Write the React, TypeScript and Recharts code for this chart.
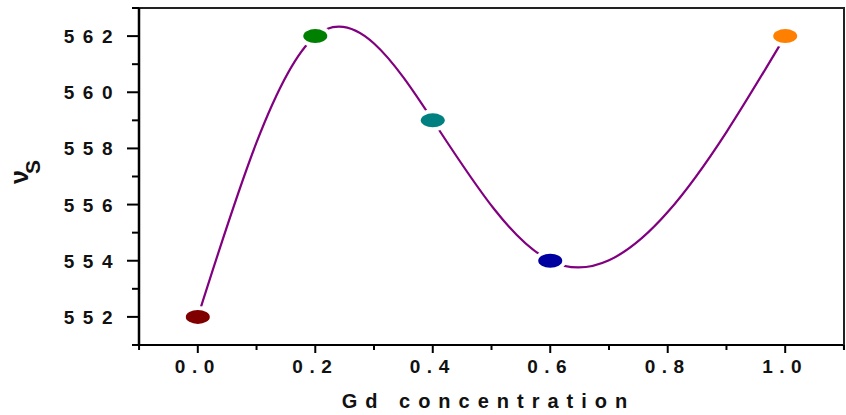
import { LineChart, Line, XAxis, YAxis, Label } from "recharts";

// Gd concentration vs sound velocity (vs)
const concentration = [0, 0.2, 0.4, 0.6, 1.0];
const velocity = [552, 562, 559, 554, 562];

const xTicks = [-0.1, 0, 0.1, 0.2, 0.3, 0.4, 0.5, 0.6, 0.7, 0.8, 0.9, 1.0, 1.1];
const xMajor = [0, 0.2, 0.4, 0.6, 0.8, 1.0];
const yTicks = [551, 552, 553, 554, 555, 556, 557, 558, 559, 560, 561, 562, 563];
const yMajor = [552, 554, 556, 558, 560, 562];

const dotColors = ["#800000", "#008000", "#008080", "#0000A0", "#FF8000"];

const rows = concentration.map((x, i) => ({ x, v: velocity[i] }));

const FONT = "'Liberation Sans', Arial, sans-serif";
const CHART_W = 846;
const CHART_H = 415;
const MARGIN = { top: 8, right: 2, bottom: 0, left: 0 };
const Y_AXIS_W = 139;
const X_AXIS_H = 70;
const PLOT_H = CHART_H - MARGIN.top - MARGIN.bottom - X_AXIS_H;

// natural cubic spline in x (like Origin's spline connection)
const splineX = (context: any) => {
  let xs: number[] = [];
  let ys: number[] = [];
  return {
    areaStart() {},
    areaEnd() {},
    lineStart() {
      xs = [];
      ys = [];
    },
    point(x: number, y: number) {
      xs.push(+x);
      ys.push(+y);
    },
    lineEnd() {
      const n = xs.length;
      if (!n) return;
      context.moveTo(xs[0], ys[0]);
      if (n === 1) return;
      if (n === 2) {
        context.lineTo(xs[1], ys[1]);
        return;
      }
      const h: number[] = [];
      const d: number[] = [];
      for (let i = 0; i < n - 1; i++) {
        h[i] = xs[i + 1] - xs[i];
        d[i] = (ys[i + 1] - ys[i]) / h[i];
      }
      const m = n - 2;
      const a: number[] = [], b: number[] = [], c: number[] = [], r: number[] = [];
      for (let k = 0; k < m; k++) {
        const i = k + 1;
        a[k] = h[i - 1];
        b[k] = 2 * (h[i - 1] + h[i]);
        c[k] = h[i];
        r[k] = 6 * (d[i] - d[i - 1]);
      }
      for (let k = 1; k < m; k++) {
        const w = a[k] / b[k - 1];
        b[k] -= w * c[k - 1];
        r[k] -= w * r[k - 1];
      }
      const M: number[] = new Array(n).fill(0);
      for (let k = m - 1; k >= 0; k--) {
        M[k + 1] = (r[k] - (k < m - 1 ? c[k] * M[k + 2] : 0)) / b[k];
      }
      for (let i = 0; i < n - 1; i++) {
        const s0 = d[i] - (h[i] * (2 * M[i] + M[i + 1])) / 6;
        const s1 = d[i] + (h[i] * (M[i] + 2 * M[i + 1])) / 6;
        context.bezierCurveTo(
          xs[i] + h[i] / 3,
          ys[i] + (s0 * h[i]) / 3,
          xs[i + 1] - h[i] / 3,
          ys[i + 1] - (s1 * h[i]) / 3,
          xs[i + 1],
          ys[i + 1]
        );
      }
    },
  };
};

const isMajorX = (v: number) => xMajor.some((m) => Math.abs(m - v) < 1e-6);

const XTick = (props: any) => {
  const { x, y, payload } = props;
  const major = isMajorX(payload.value);
  return (
    <g>
      <line x1={x} x2={x} y1={y} y2={y + (major ? 8 : 5)} stroke="#000" strokeWidth={2} />
      {major && (
        <text
          x={x}
          y={y + 28}
          textAnchor="middle"
          fontFamily={FONT}
          fontWeight="bold"
          fontSize={19}
          letterSpacing={6.5}
          fill="#111"
        >
          {payload.value.toFixed(1)}
        </text>
      )}
    </g>
  );
};

const YTick = (props: any) => {
  const { x, y, payload } = props;
  const major = yMajor.includes(payload.value);
  return (
    <g>
      <line x1={x - (major ? 12 : 7)} x2={x} y1={y} y2={y} stroke="#000" strokeWidth={2} />
      {major && (
        <text
          x={x - 18}
          y={y + 7}
          textAnchor="end"
          fontFamily={FONT}
          fontWeight="bold"
          fontSize={19}
          letterSpacing={8.5}
          fill="#111"
        >
          {payload.value}
        </text>
      )}
    </g>
  );
};

const Dot = (props: any) => {
  const { cx, cy, index } = props;
  return (
    <g key={`dot-${index}`}>
      <ellipse cx={cx} cy={cy} rx={16} ry={11} fill="#fff" />
      <ellipse cx={cx} cy={cy} rx={12} ry={7} fill={dotColors[index]} />
    </g>
  );
};

const YTitle = (props: any) => {
  const { viewBox } = props;
  const x = viewBox.x + 28;
  const y = viewBox.y + 176;
  return (
    <text
      x={x}
      y={y}
      transform={`rotate(-90 ${x} ${y})`}
      fontFamily={FONT}
      fontWeight="bold"
      fill="#111"
    >
      <tspan fontSize={25}>ν</tspan>
      <tspan fontSize={21} dx={-4} dy={12}>
        S
      </tspan>
    </text>
  );
};

// x title, plus the top and right frame of the plot box (thin filled bars)
const XTitle = (props: any) => {
  const { viewBox } = props;
  const left = viewBox.x;
  const right = viewBox.x + viewBox.width;
  const bottom = viewBox.y;
  const top = bottom - PLOT_H;
  return (
    <g>
      <rect x={left - 7} y={top - 1} width={right - left + 8} height={2} fill="#222" />
      <rect x={right - 1} y={top - 1} width={2} height={PLOT_H + 6} fill="#222" />
      <text
        x={left + viewBox.width / 2 - 3}
        y={bottom + 63}
        textAnchor="middle"
        fontFamily={FONT}
        fontWeight="bold"
        fontSize={20}
        letterSpacing={8}
        fill="#111"
      >
        Gd concentration
      </text>
    </g>
  );
};

export default function App() {
  return (
    <div style={{ width: CHART_W, height: CHART_H, background: "#fff" }}>
      <style>{`html, body { margin: 0; padding: 0; overflow: hidden; }`}</style>
      <LineChart width={CHART_W} height={CHART_H} data={rows} margin={MARGIN}>
        <XAxis
          type="number"
          dataKey="x"
          domain={[-0.1001, 1.1001]}
          ticks={xTicks}
          interval={0}
          tickSize={0}
          tickMargin={0}
          tickLine={false}
          tick={<XTick />}
          axisLine={{ stroke: "#000", strokeWidth: 2 }}
          height={X_AXIS_H}
        >
          <Label content={<XTitle />} />
        </XAxis>
        <YAxis
          type="number"
          domain={[550.999, 563.001]}
          ticks={yTicks}
          interval={0}
          tickSize={0}
          tickMargin={0}
          tickLine={false}
          tick={<YTick />}
          axisLine={{ stroke: "#000", strokeWidth: 2.5 }}
          width={Y_AXIS_W}
        >
          <Label content={<YTitle />} />
        </YAxis>
        <Line
          dataKey="v"
          type={splineX as any}
          stroke="#800080"
          strokeWidth={2.2}
          dot={Dot}
          activeDot={false}
          isAnimationActive={false}
        />
      </LineChart>
    </div>
  );
}
